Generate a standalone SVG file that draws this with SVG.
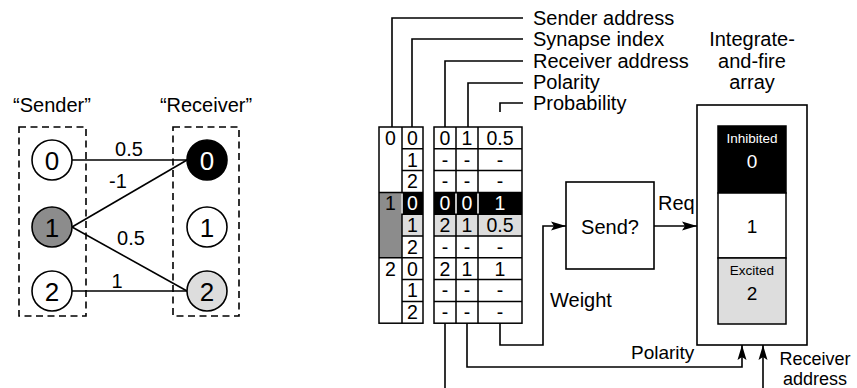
<svg xmlns="http://www.w3.org/2000/svg" width="857" height="388" viewBox="0 0 857 388">
<style>
text{font-family:"Liberation Sans",Arial,Helvetica,sans-serif;fill:#000}
.lbl{font-size:20px}
.big{font-size:20px}
.el{font-size:20px;text-anchor:middle}
.cd{font-size:26px;text-anchor:middle}
.t{font-size:19.5px;text-anchor:middle}
.m{text-anchor:middle}
.w{fill:#fff}
.ln{fill:none;stroke:#000;stroke-width:1.6}
.dash{fill:none;stroke:#000;stroke-width:1.6;stroke-dasharray:7 4.5}
.circ{stroke:#000;stroke-width:1.6}
.g{stroke:#000;stroke-width:1.5}
</style>
<defs>
<marker id="ah" markerUnits="userSpaceOnUse" markerWidth="16" markerHeight="12" viewBox="0 0 16 12" refX="15" refY="6" orient="auto">
<path d="M0,1.5 L15,6 L0,10.5 L3,6 z" fill="#000"/>
</marker>
</defs>

<!-- Left graph -->
<g id="sender-box"><rect class="dash" x="19" y="127" width="67" height="189"/><text class="big m" x="52" y="112">“Sender”</text></g>
<g id="receiver-box"><rect class="dash" x="173" y="127" width="66" height="189"/><text class="big m" x="206" y="112">“Receiver”</text></g>

<g id="edges">
<line class="ln" x1="72" y1="160" x2="187" y2="160"/>
<line class="ln" x1="72" y1="227" x2="187" y2="160"/>
<line class="ln" x1="72" y1="227" x2="187" y2="291"/>
<line class="ln" x1="72" y1="291" x2="187" y2="291"/>
<text class="el" x="129" y="156">0.5</text>
<text class="el" x="118" y="188">-1</text>
<text class="el" x="131" y="245">0.5</text>
<text class="el" x="117" y="288">1</text>
</g>

<g id="s0"><circle class="circ" cx="52" cy="160" r="20" fill="#fff"/><text class="cd" x="52" y="169.5">0</text></g>
<g id="s1"><circle class="circ" cx="52" cy="227" r="20" fill="#8c8c8c"/><text class="cd" x="52" y="236.5">1</text></g>
<g id="s2"><circle class="circ" cx="52" cy="291" r="20" fill="#fff"/><text class="cd" x="52" y="300.5">2</text></g>
<g id="r0"><circle class="circ" cx="207" cy="160" r="20" fill="#000"/><text class="cd w" x="207" y="169.5">0</text></g>
<g id="r1"><circle class="circ" cx="207" cy="227" r="20" fill="#fff"/><text class="cd" x="207" y="236.5">1</text></g>
<g id="r2"><circle class="circ" cx="207" cy="291" r="20" fill="#ddd"/><text class="cd" x="207" y="300.5">2</text></g>

<!-- Field labels -->
<g id="field-labels">
<path class="ln" d="M392,127 V18 H523"/>
<path class="ln" d="M412,127 V39 H523"/>
<path class="ln" d="M445,127 V61 H523"/>
<path class="ln" d="M468,127 V83 H523"/>
<path class="ln" d="M500,112 V103 H523"/>
<text class="lbl" x="533" y="25">Sender address</text>
<text class="lbl" x="533" y="46">Synapse index</text>
<text class="lbl" x="533" y="68">Receiver address</text>
<text class="lbl" x="533" y="89">Polarity</text>
<text class="lbl" x="533" y="110">Probability</text>
</g>

<!-- Tables -->
<g id="sender-table">
<rect x="379" y="192.4" width="23" height="65.4" fill="#8c8c8c"/>
<rect x="402" y="192.4" width="21" height="21.8" fill="#000"/>
<rect x="402" y="214.2" width="21" height="21.8" fill="#ddd"/>
<rect class="g" x="379" y="127" width="44" height="196.2" fill="none"/>
<line class="g" x1="402" y1="127" x2="402" y2="323.2"/>
<line class="g" x1="379" y1="192.4" x2="423" y2="192.4"/>
<line class="g" x1="379" y1="257.8" x2="423" y2="257.8"/>
<path class="g" d="M402,148.8 H423 M402,170.6 H423 M402,214.2 H423 M402,236 H423 M402,279.6 H423 M402,301.4 H423"/>
<line x1="402" y1="193.4" x2="402" y2="213.4" stroke="#fff" stroke-width="1.5"/>
<text class="t" x="390.5" y="144.8">0</text>
<text class="t" x="390.5" y="210.2">1</text>
<text class="t" x="390.5" y="275.6">2</text>
<text class="t" x="412.5" y="144.8">0</text>
<text class="t" x="412.5" y="166.6">1</text>
<text class="t" x="412.5" y="188.4">2</text>
<text class="t w" x="412.5" y="210.2">0</text>
<text class="t" x="412.5" y="232">1</text>
<text class="t" x="412.5" y="253.8">2</text>
<text class="t" x="412.5" y="275.6">0</text>
<text class="t" x="412.5" y="297.4">1</text>
<text class="t" x="412.5" y="319.2">2</text>
</g>

<g id="synapse-table">
<rect x="434" y="192.4" width="88" height="21.8" fill="#000"/>
<rect x="434" y="214.2" width="88" height="21.8" fill="#ddd"/>
<rect class="g" x="434" y="127" width="88" height="196.2" fill="none"/>
<path class="g" d="M456,127 V323.2 M478,127 V323.2"/>
<path class="g" d="M434,148.8 H522 M434,170.6 H522 M434,192.4 H522 M434,214.2 H522 M434,236 H522 M434,257.8 H522 M434,279.6 H522 M434,301.4 H522"/>
<path d="M456,193.4 V213.4 M478,193.4 V213.4" stroke="#fff" stroke-width="1.5"/>
<text class="t" x="445" y="144.8">0</text><text class="t" x="467" y="144.8">1</text><text class="t" x="500" y="144.8">0.5</text>
<text class="t" x="445" y="166.6">-</text><text class="t" x="467" y="166.6">-</text><text class="t" x="500" y="166.6">-</text>
<text class="t" x="445" y="188.4">-</text><text class="t" x="467" y="188.4">-</text><text class="t" x="500" y="188.4">-</text>
<text class="t w" x="445" y="210.2">0</text><text class="t w" x="467" y="210.2">0</text><text class="t w" x="500" y="210.2">1</text>
<text class="t" x="445" y="232">2</text><text class="t" x="467" y="232">1</text><text class="t" x="500" y="232">0.5</text>
<text class="t" x="445" y="253.8">-</text><text class="t" x="467" y="253.8">-</text><text class="t" x="500" y="253.8">-</text>
<text class="t" x="445" y="275.6">2</text><text class="t" x="467" y="275.6">1</text><text class="t" x="500" y="275.6">1</text>
<text class="t" x="445" y="297.4">-</text><text class="t" x="467" y="297.4">-</text><text class="t" x="500" y="297.4">-</text>
<text class="t" x="445" y="319.2">-</text><text class="t" x="467" y="319.2">-</text><text class="t" x="500" y="319.2">-</text>
</g>

<g id="send">
<rect class="ln" x="566" y="182" width="88" height="87" fill="#fff"/>
<text class="big m" x="610" y="234">Send?</text>
</g>

<g id="if-array">
<text class="lbl m" x="752" y="46">Integrate-</text>
<text class="lbl m" x="752" y="68">and-fire</text>
<text class="lbl m" x="752" y="89">array</text>
<rect class="ln" x="697" y="105" width="110" height="240" fill="#fff"/>
<rect class="g" x="718" y="126" width="68" height="67" fill="#000"/>
<rect class="g" x="718" y="193" width="68" height="65" fill="#fff"/>
<rect class="g" x="718" y="258" width="68" height="66" fill="#ddd"/>
<text class="m w" x="752" y="143" style="font-size:13.5px">Inhibited</text>
<text class="m w" x="752" y="168" style="font-size:19px">0</text>
<text class="m" x="752" y="233" style="font-size:19px">1</text>
<text class="m" x="752" y="275" style="font-size:13.5px">Excited</text>
<text class="m" x="752" y="300" style="font-size:19px">2</text>
</g>

<g id="connectors">
<path class="ln" d="M500,323.2 V345 H543 V226 H566" marker-end="url(#ah)"/>
<path class="ln" d="M654,226 H697" marker-end="url(#ah)"/>
<path class="ln" d="M467,323.2 V367 H742 V345" marker-end="url(#ah)"/>
<path class="ln" d="M445,323.2 V400 H763 V345" marker-end="url(#ah)"/>
<text class="lbl" x="550" y="307">Weight</text>
<text class="lbl" x="658" y="210">Req</text>
<text x="631" y="359" style="font-size:19px">Polarity</text>
<text class="m" x="815" y="364.5" style="font-size:18px">Receiver</text>
<text class="m" x="815" y="384.5" style="font-size:18px">address</text>
</g>
</svg>
